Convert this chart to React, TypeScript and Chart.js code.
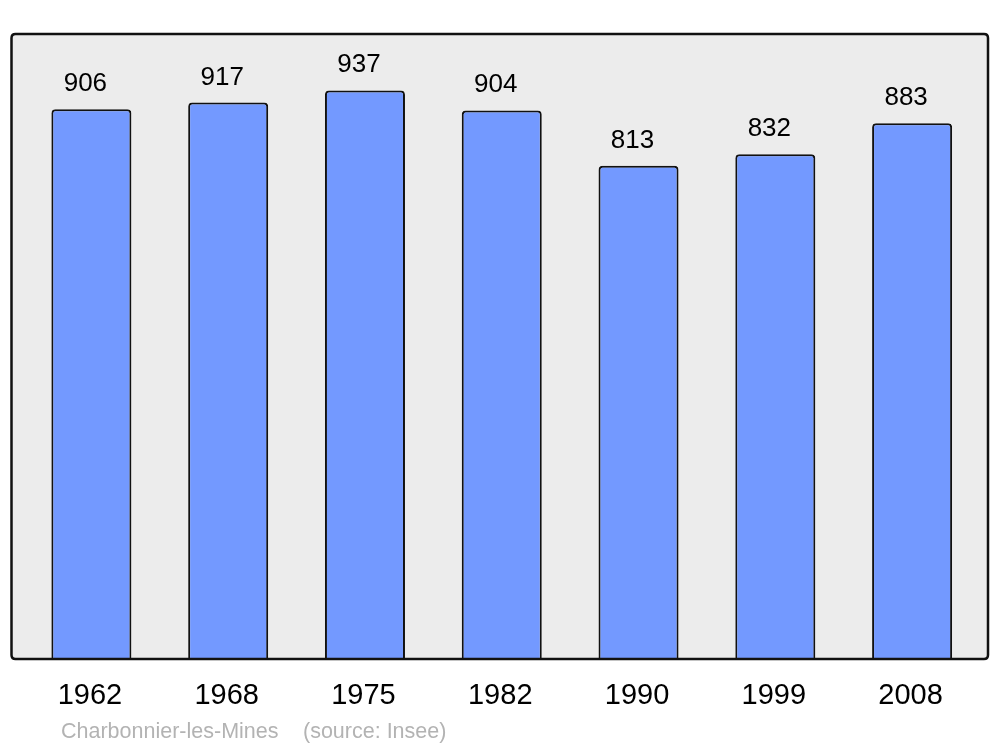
import React, { useEffect, useRef } from "react";
import { Chart, registerables } from "chart.js";

Chart.register(...registerables);

const years = ["1962", "1968", "1975", "1982", "1990", "1999", "2008"];
const population = [906, 917, 937, 904, 813, 832, 883];
const footerName = "Charbonnier-les-Mines";
const footerSource = "(source: Insee)";

const FONT = '"Liberation Sans", Arial, sans-serif';

function roundRectPath(ctx: CanvasRenderingContext2D, x: number, y: number, w: number, h: number, r: number) {
  ctx.beginPath();
  ctx.moveTo(x + r, y);
  ctx.lineTo(x + w - r, y);
  ctx.quadraticCurveTo(x + w, y, x + w, y + r);
  ctx.lineTo(x + w, y + h - r);
  ctx.quadraticCurveTo(x + w, y + h, x + w - r, y + h);
  ctx.lineTo(x + r, y + h);
  ctx.quadraticCurveTo(x, y + h, x, y + h - r);
  ctx.lineTo(x, y + r);
  ctx.quadraticCurveTo(x, y, x + r, y);
  ctx.closePath();
}

const framePlugin = {
  id: "frame",
  beforeDraw(chart: any) {
    const ctx = chart.ctx as CanvasRenderingContext2D;
    ctx.save();
    ctx.fillStyle = "#ffffff";
    ctx.fillRect(0, 0, chart.width, chart.height);
    roundRectPath(ctx, 11.5, 34, 976.5, 625, 4);
    ctx.fillStyle = "#ececec";
    ctx.fill();
    ctx.restore();
  },
  afterDatasetsDraw(chart: any) {
    const ctx = chart.ctx as CanvasRenderingContext2D;
    ctx.save();
    roundRectPath(ctx, 11.5, 34, 976.5, 625, 4);
    ctx.strokeStyle = "#111111";
    ctx.lineWidth = 2.5;
    ctx.stroke();

    const xs = chart.scales.x;
    const ys = chart.scales.y;
    ctx.textAlign = "center";
    ctx.textBaseline = "alphabetic";
    ctx.fillStyle = "#000000";
    ctx.font = `26px ${FONT}`;
    population.forEach((v, i) => {
      const x = xs.getPixelForValue(i);
      const y = ys.getPixelForValue(v);
      ctx.fillText(String(v), x - 6, y - 18);
    });
    ctx.font = `29px ${FONT}`;
    years.forEach((lab, i) => {
      const x = xs.getPixelForValue(i);
      ctx.fillText(lab, x - 1.5, 704);
    });
    ctx.textAlign = "left";
    ctx.fillStyle = "#b3b3b3";
    ctx.font = `21.5px ${FONT}`;
    ctx.fillText(footerName, 61, 738);
    ctx.fillText(footerSource, 303, 738);
    ctx.restore();
  },
};

export default function App() {
  const ref = useRef<HTMLCanvasElement | null>(null);
  useEffect(() => {
    document.body.style.margin = "0";
    const canvas = ref.current!;
    const chart = new Chart(canvas, {
      type: "bar",
      data: {
        labels: years,
        datasets: [
          {
            data: population,
            backgroundColor: "#7399ff",
            borderColor: "#111111",
            borderWidth: 2,
            borderSkipped: "bottom",
            borderRadius: { topLeft: 4, topRight: 4, bottomLeft: 0, bottomRight: 0 },
            barPercentage: 0.585,
            categoryPercentage: 1,
          },
        ],
      },
      options: {
        responsive: false,
        animation: false,
        devicePixelRatio: 1,
        layout: { padding: { left: 23, right: 19.5, top: 34, bottom: 88 } },
        plugins: { legend: { display: false }, tooltip: { enabled: false }, title: { display: false } },
        scales: {
          x: { display: false, offset: true, grid: { display: false } },
          y: { display: false, min: 0, max: 1030 },
        },
      },
      plugins: [framePlugin],
    });
    return () => chart.destroy();
  }, []);
  return (
    <div style={{ position: "absolute", left: 0, top: 0, width: 1000, height: 747 }}>
      <canvas ref={ref} width={1000} height={747} style={{ width: 1000, height: 747 }} />
    </div>
  );
}
